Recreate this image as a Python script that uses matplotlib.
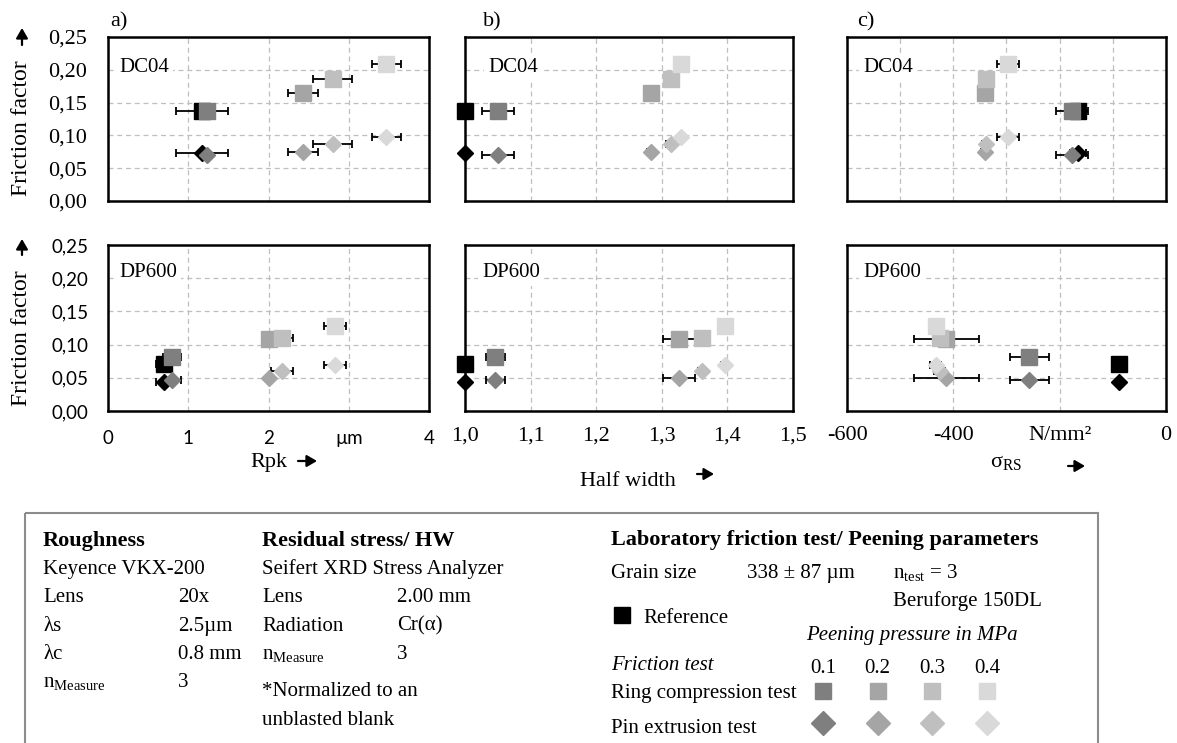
import matplotlib
matplotlib.use('Agg')
import matplotlib.pyplot as plt
from matplotlib.patches import Rectangle

plt.rcParams['font.family'] = ['Liberation Serif', 'DejaVu Serif']
plt.rcParams['mathtext.fontset'] = 'custom'
plt.rcParams['mathtext.rm'] = 'Liberation Serif'
plt.rcParams['mathtext.it'] = 'Liberation Serif:italic'

SANS = ['Lato', 'DejaVu Sans']

# peening pressure (MPa) and grey tone, reference blank is black
pressures = ['0.1', '0.2', '0.3', '0.4']
greys = ['#7f7f7f', '#a5a5a5', '#bfbfbf', '#d9d9d9']

# friction factor, first entry = reference
dc04_ring = [0.137, 0.137, 0.165, 0.186, 0.209]
dc04_pin = [0.073, 0.070, 0.075, 0.087, 0.098]
dp600_ring = [0.071, 0.081, 0.108, 0.110, 0.128]
dp600_pin = [0.044, 0.047, 0.049, 0.060, 0.069]

# a) Rpk in um
dc04_rpk = [1.17, 1.23, 2.43, 2.80, 3.47]
dc04_rpk_err = [0.32, 0.05, 0.19, 0.24, 0.18]
dp600_rpk = [0.70, 0.80, 2.01, 2.17, 2.83]
dp600_rpk_err = [0.10, 0.11, 0.0, 0.135, 0.135]

# b) half width (normalized)
dc04_hw = [1.0, 1.050, 1.283, 1.314, 1.329]
dc04_hw_err = [0.0, 0.024, 0.005, 0.008, 0.005]
dp600_hw = [1.0, 1.046, 1.326, 1.361, 1.396]
dp600_hw_err = [0.0, 0.0145, 0.024, 0.006, 0.005]

# c) residual stress in N/mm2
dc04_rs = [-165, -177, -340, -339, -297]
dc04_rs_err = [15, 30, 8, 8, 21]
dp600_rs = [-88, -257, -413, -426, -433]
dp600_rs_err = [0, 36, 61, 10, 10]

W, H = 1177, 743
fig = plt.figure(figsize=(W / 100, H / 100), dpi=100)


def box(l, r, t, b):
    return [l / W, 1 - b / H, (r - l) / W, (b - t) / H]


def draw(ax, x, xerr, ring, pin):
    cols = ['black'] + greys
    for i in range(len(x)):
        for yv, m, ms in [(ring[i], 's', 11), (pin[i], 'D', 7.8)]:
            if xerr[i] > 0:
                ax.errorbar(x[i], yv, xerr=xerr[i], fmt='none', ecolor='black',
                            elinewidth=1.3, capsize=3, capthick=1.3, zorder=2)
            ax.plot(x[i], yv, marker=m, ms=ms, color=cols[i], mec=cols[i],
                    ls='none', zorder=3 + i, clip_on=False)


def style(ax, xlim, xticks, name, namex, namey):
    ax.set_xlim(xlim)
    ax.set_ylim(0, 0.25)
    ax.set_xticks(xticks)
    ax.set_yticks([0, 0.05, 0.10, 0.15, 0.20, 0.25])
    ax.grid(True, color='#bfbfbf', ls=(0, (4, 3)), lw=0.9)
    ax.set_axisbelow(True)
    for s in ax.spines.values():
        s.set_linewidth(1.8)
    ax.tick_params(length=0, labelbottom=False, labelleft=False)
    ax.text(namex, namey, name, transform=ax.transAxes, fontsize=15, va='center',
            ha='left', zorder=10,
            bbox=dict(facecolor='white', edgecolor='none', pad=3))


cols_px = [(108, 429), (465, 793), (847, 1166)]
rows_px = [(37, 201), (245, 411)]
ytl = ['0,00', '0,05', '0,10', '0,15', '0,20', '0,25']

# top row: DC04
a1 = fig.add_axes(box(*cols_px[0], *rows_px[0]))
style(a1, (0, 4), [0, 1, 2, 3, 4], 'DC04', 0.034, 0.817)
draw(a1, dc04_rpk, dc04_rpk_err, dc04_ring, dc04_pin)
a1.tick_params(labelleft=True, pad=15, labelsize=16)
a1.set_yticklabels(ytl)

b1 = fig.add_axes(box(*cols_px[1], *rows_px[0]))
style(b1, (1.0, 1.5), [1.0, 1.1, 1.2, 1.3, 1.4, 1.5], 'DC04', 0.07, 0.817)
draw(b1, dc04_hw, dc04_hw_err, dc04_ring, dc04_pin)

c1 = fig.add_axes(box(*cols_px[2], *rows_px[0]))
style(c1, (-600, 0), list(range(-600, 1, 100)), 'DC04', 0.05, 0.817)
draw(c1, dc04_rs, dc04_rs_err, dc04_ring, dc04_pin)

# bottom row: DP600
a2 = fig.add_axes(box(*cols_px[0], *rows_px[1]))
style(a2, (0, 4), [0, 1, 2, 3, 4], 'DP600', 0.034, 0.837)
draw(a2, dp600_rpk, dp600_rpk_err, dp600_ring, dp600_pin)
a2.tick_params(labelleft=True, labelbottom=True, pad=14)
a2.set_yticklabels(ytl, fontsize=13.5, family=SANS)
a2.set_xticklabels(['0', '1', '2', 'µm', '4'], fontsize=13.5, family=SANS)

b2 = fig.add_axes(box(*cols_px[1], *rows_px[1]))
style(b2, (1.0, 1.5), [1.0, 1.1, 1.2, 1.3, 1.4, 1.5], 'DP600', 0.052, 0.837)
draw(b2, dp600_hw, dp600_hw_err, dp600_ring, dp600_pin)
b2.tick_params(labelbottom=True, pad=11)
b2.set_xticklabels(['1,0', '1,1', '1,2', '1,3', '1,4', '1,5'], fontsize=16)

c2 = fig.add_axes(box(*cols_px[2], *rows_px[1]))
style(c2, (-600, 0), [-600, -400, -200, 0], 'DP600', 0.05, 0.837)
draw(c2, dp600_rs, dp600_rs_err, dp600_ring, dp600_pin)
c2.tick_params(labelbottom=True, pad=11)
c2.set_xticklabels(['-600', '-400', 'N/mm²', '0'], fontsize=16)

# overlay in pixel coordinates for labels and the info box
lax = fig.add_axes([0, 0, 1, 1], zorder=-1)
lax.set_xlim(0, W)
lax.set_ylim(H, 0)
lax.axis('off')

arrow = dict(arrowstyle='-|>,head_length=0.6,head_width=0.35', color='black', lw=1.6,
             shrinkA=0, shrinkB=0)
for y0, y1 in [(45, 28), (255, 239)]:
    lax.annotate('', xy=(22, y1), xytext=(22, y0), arrowprops=arrow)
lax.text(22, 128, 'Friction factor', rotation=90, fontsize=17, ha='center', va='center')
lax.text(22, 338, 'Friction factor', rotation=90, fontsize=17, ha='center', va='center')

for lab, x in [('a)', 110), ('b)', 483), ('c)', 857)]:
    lax.text(x, 22, lab, fontsize=16, va='center', ha='left')

lax.text(250, 462, 'Rpk', fontsize=16, va='center')
lax.annotate('', xy=(317, 461), xytext=(298, 461), arrowprops=arrow)
lax.text(580, 482, 'Half width', fontsize=16, va='center')
lax.annotate('', xy=(714, 474), xytext=(697, 474), arrowprops=arrow)
lax.text(990, 463, r'σ$_{\mathrm{RS}}$', fontsize=16, va='center')
lax.annotate('', xy=(1085, 466), xytext=(1068, 466), arrowprops=arrow)

lax.add_patch(Rectangle((25, 513), 1073, 250, fill=False, edgecolor='#8c8c8c', lw=1.5,
                        clip_on=False))

fs = 15
lax.text(43, 546, 'Roughness', fontsize=16, weight='bold')
rough = [('Keyence VKX-200', ''), ('Lens', '20x'), ('λs', '2.5µm'), ('λc', '0.8 mm'),
         ('n$_{\\mathrm{Measure}}$', '3')]
for i, (k, v) in enumerate(rough):
    y = 574 + i * 28.3
    lax.text(43, y, k, fontsize=fs)
    lax.text(178, y, v, fontsize=fs)

lax.text(262, 546, 'Residual stress/ HW', fontsize=16, weight='bold')
resid = [('Seifert XRD Stress Analyzer', ''), ('Lens', '2.00 mm'), ('Radiation', 'Cr(α)'),
         ('n$_{\\mathrm{Measure}}$', '3')]
for i, (k, v) in enumerate(resid):
    y = 574 + i * 28.3
    lax.text(262, y, k, fontsize=fs)
    lax.text(397, y, v, fontsize=fs)
lax.text(262, 696, '*Normalized to an', fontsize=fs)
lax.text(262, 725, 'unblasted blank', fontsize=fs)

lax.text(611, 545, 'Laboratory friction test/ Peening parameters', fontsize=16, weight='bold')
lax.text(611, 578, 'Grain size', fontsize=fs)
lax.text(747, 578, '338 ± 87 µm', fontsize=fs)
lax.text(893, 578, 'n$_{\\mathrm{test}}$ = 3', fontsize=fs)
lax.text(893, 606, 'Beruforge 150DL', fontsize=fs)
lax.plot(622, 615, marker='s', ms=12, color='black', ls='none')
lax.text(643, 623, 'Reference', fontsize=fs)
lax.text(806, 640, 'Peening pressure in MPa', fontsize=fs, style='italic')
lax.text(611, 670, 'Friction test', fontsize=fs, style='italic')
lax.text(611, 698, 'Ring compression test', fontsize=fs)
lax.text(611, 733, 'Pin extrusion test', fontsize=fs)
for i, p in enumerate(pressures):
    x = 823 + i * 54.7
    lax.text(x, 673, p, fontsize=fs, ha='center')
    lax.plot(x, 691, marker='s', ms=12, color=greys[i], ls='none')
    lax.plot(x, 723, marker='D', ms=12, color=greys[i], ls='none')

fig.savefig('out.png', dpi=100)
